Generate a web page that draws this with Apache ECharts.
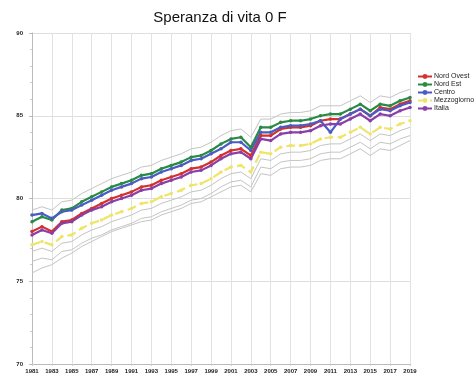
<!DOCTYPE html>
<html><head><meta charset="utf-8">
<script src="https://cdn.jsdelivr.net/npm/echarts@6/dist/echarts.min.js"></script>
<style>html,body{margin:0;padding:0;background:#fff}#c{width:476px;height:381px}</style>
</head><body><div id="c"></div>
<script>
var years = [];
for (var y = 1981; y <= 2019; y++) years.push(String(y));
var titleText = "Speranza di vita 0 F";
var seriesNames = ["Nord Ovest", "Nord Est", "Centro", "Mezzogiorno", "Italia"];
var nordOvest = [78.0,78.3,78.0,78.6,78.7,79.1,79.4,79.7,80.0,80.2,80.4,80.7,80.8,81.1,81.3,81.5,81.8,81.9,82.2,82.6,82.9,83.0,82.6,83.8,83.8,84.2,84.3,84.3,84.4,84.7,84.8,84.8,85.1,85.4,85.0,85.5,85.4,85.7,85.9];
var nordEst = [78.6,78.9,78.7,79.3,79.4,79.8,80.1,80.4,80.7,80.9,81.1,81.4,81.5,81.8,82.0,82.2,82.5,82.6,82.9,83.3,83.6,83.7,83.1,84.3,84.3,84.6,84.7,84.7,84.8,85.0,85.1,85.1,85.4,85.7,85.3,85.7,85.6,85.9,86.1];
var centro = [79.0,79.1,78.8,79.2,79.3,79.6,79.9,80.2,80.5,80.7,80.9,81.2,81.3,81.6,81.8,82.0,82.3,82.4,82.7,83.0,83.4,83.4,82.9,84.0,84.0,84.3,84.4,84.4,84.5,84.7,84.0,84.8,85.1,85.4,85.0,85.4,85.3,85.6,85.8];
var mezzogiorno = [77.2,77.4,77.2,77.7,77.8,78.2,78.5,78.7,79.0,79.2,79.4,79.7,79.8,80.1,80.3,80.5,80.8,80.9,81.2,81.6,81.9,82.0,81.6,82.8,82.7,83.1,83.2,83.2,83.3,83.6,83.7,83.7,84.0,84.3,83.9,84.3,84.2,84.5,84.7];
var italia = [77.8,78.1,77.9,78.5,78.6,79.0,79.3,79.5,79.8,80.0,80.2,80.5,80.6,80.9,81.1,81.3,81.6,81.7,82.0,82.4,82.7,82.8,82.4,83.6,83.5,83.9,84.0,84.0,84.1,84.4,84.5,84.5,84.8,85.1,84.7,85.1,85.0,85.3,85.5];
var greyUpper = [79.3,79.5,79.3,79.8,79.9,80.3,80.6,80.9,81.2,81.4,81.6,81.9,82.0,82.3,82.5,82.7,83.0,83.1,83.4,83.8,84.1,84.2,83.7,84.8,84.8,85.1,85.2,85.2,85.3,85.6,85.6,85.6,85.9,86.2,85.8,86.2,86.1,86.4,86.6];
var greyLow1 = [76.8,77.0,76.8,77.3,77.4,77.8,78.1,78.3,78.6,78.8,79.0,79.3,79.4,79.7,79.9,80.1,80.4,80.5,80.8,81.2,81.5,81.6,81.2,82.4,82.3,82.7,82.8,82.8,82.9,83.2,83.3,83.3,83.6,83.9,83.5,83.9,83.8,84.1,84.3];
var greyLow2 = [76.2,76.4,76.3,76.8,76.9,77.3,77.6,77.8,78.1,78.3,78.5,78.8,78.9,79.2,79.4,79.6,79.9,80.0,80.3,80.7,81.0,81.1,80.7,81.9,81.8,82.2,82.3,82.3,82.4,82.7,82.8,82.8,83.1,83.4,83.0,83.4,83.3,83.6,83.8];
var greyLow3 = [75.5,75.8,76.0,76.4,76.7,77.1,77.4,77.7,78.0,78.2,78.4,78.6,78.7,79.0,79.2,79.4,79.7,79.8,80.1,80.4,80.7,80.8,80.4,81.5,81.4,81.8,81.9,81.9,82.0,82.3,82.4,82.4,82.7,83.0,82.6,83.0,82.9,83.2,83.5];
var yTicks = [70, 75, 80, 85, 90];

var colors = ["#d2312e", "#2a8a45", "#4b5bc4", "#efe46a", "#8a3fa8"];
var mainData = [nordOvest, nordEst, centro, mezzogiorno, italia];
var greyData = [greyUpper, greyLow1, greyLow2, greyLow3];

var series = [];
greyData.forEach(function (d, i) {
  series.push({ name: "grey" + i, type: "line", data: d, symbol: "none", silent: true,
    lineStyle: { color: "#c4c4c4", width: 1 }, z: 1 });
});
mainData.forEach(function (d, i) {
  series.push({ name: seriesNames[i], type: "line", data: d, symbol: "circle", symbolSize: 3.5,
    itemStyle: { color: colors[i] },
    lineStyle: { color: colors[i], width: 2.2, type: i === 3 ? "dashed" : "solid" }, z: 3 });
});

var chart = echarts.init(document.getElementById("c"), null, { renderer: "canvas" });
chart.setOption({
  animation: false,
  backgroundColor: "#fff",
  title: { text: titleText, left: 215, top: 5, textAlign: "center",
    textStyle: { fontFamily: "Liberation Sans", fontSize: 15, fontWeight: "normal", color: "#111" } },
  legend: { data: seriesNames, orient: "vertical", left: 412, top: 68, itemGap: 1,
    itemWidth: 14, itemHeight: 6,
    textStyle: { fontFamily: "Liberation Sans", fontSize: 7, color: "#222", padding: [0,0,0,-3] } },
  grid: { left: 32, right: 66, top: 33, bottom: 17 },
  xAxis: { type: "category", data: years, boundaryGap: false,
    axisLine: { lineStyle: { color: "#bbb" } },
    axisTick: { show: true, interval: 1, length: 2, lineStyle: { color: "#ccc" } },
    axisLabel: { interval: 1, fontSize: 6, fontWeight: "bold", fontFamily: "Liberation Sans", color: "#222", margin: 4 },
    splitLine: { show: true, interval: 1, lineStyle: { color: "#e2e2e2", width: 1 } } },
  yAxis: { type: "value", min: 70, max: 90, interval: 5,
    axisLine: { show: true, lineStyle: { color: "#bbb" } },
    axisTick: { show: true, length: 3, lineStyle: { color: "#bbb" } },
    minorTick: { show: true, splitNumber: 5, length: 2, lineStyle: { color: "#ccc" } },
    axisLabel: { fontSize: 6, fontWeight: "bold", fontFamily: "Liberation Sans", color: "#222", margin: 9,
      formatter: function (v) { return yTicks.indexOf(v) >= 0 ? String(v) : ""; } },
    splitLine: { show: true, lineStyle: { color: "#dedede" } } },
  series: series
});
</script></body></html>
